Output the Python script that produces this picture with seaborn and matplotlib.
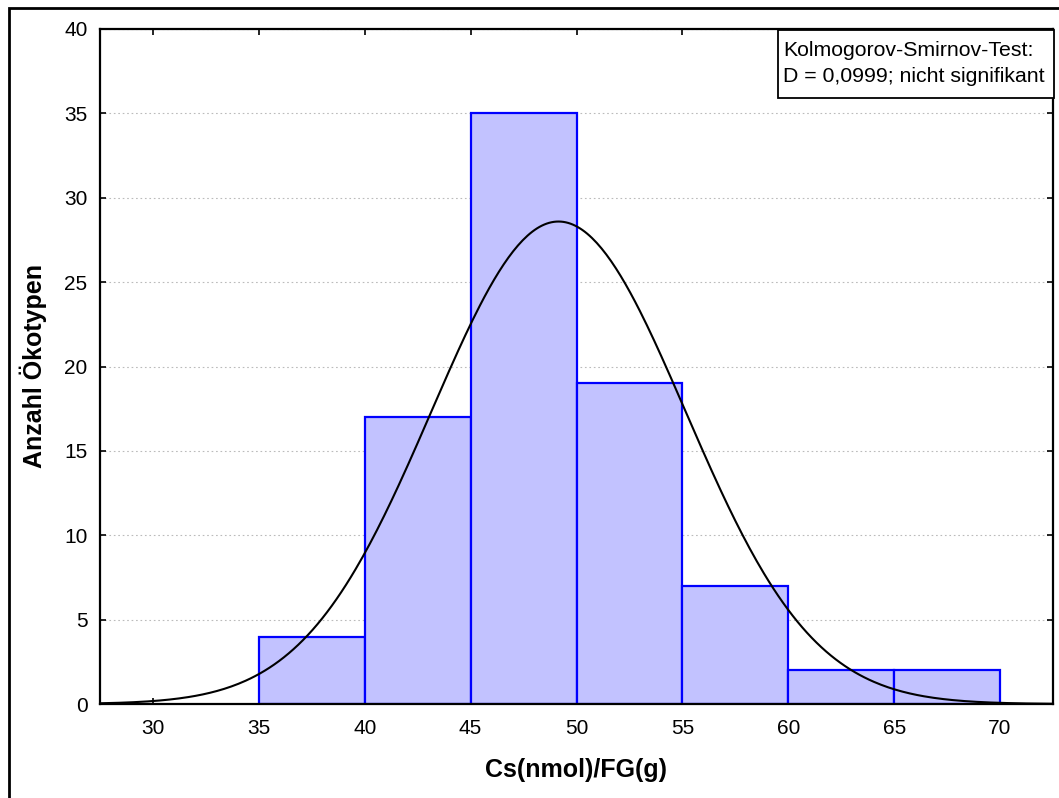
import numpy as np
import pandas as pd
import matplotlib
matplotlib.use("Agg")
import matplotlib.pyplot as plt
import seaborn as sns

bin_edges = [35, 40, 45, 50, 55, 60, 65, 70]
counts = [4, 17, 35, 19, 7, 2, 2]
fit_mean = 49.15
fit_sd = 6.0
x_ticks = [30, 35, 40, 45, 50, 55, 60, 65, 70]
y_ticks = [0, 5, 10, 15, 20, 25, 30, 35, 40]
xlabel = "Cs(nmol)/FG(g)"
ylabel = "Anzahl Ökotypen"
ks_text = "Kolmogorov-Smirnov-Test:\nD = 0,0999; nicht signifikant"

sns.set_theme(style="white")
plt.rcParams['font.family'] = ['Liberation Sans', 'DejaVu Sans']
plt.rcParams['text.color'] = 'black'
plt.rcParams['axes.labelcolor'] = 'black'
plt.rcParams['xtick.color'] = 'black'
plt.rcParams['ytick.color'] = 'black'

centers = [(a + b) / 2 for a, b in zip(bin_edges[:-1], bin_edges[1:])]
df = pd.DataFrame({"x": centers, "n": counts})

fig = plt.figure(figsize=(10.59, 7.98), dpi=100)
ax = fig.add_axes([100 / 1059, 1 - 704 / 798, 953 / 1059, 675 / 798])

# outer frame
fig.patches.append(plt.Rectangle((9 / 1059, -0.1), 1.2, 1 - 8 / 798 + 0.1,
                                 transform=fig.transFigure, fill=False,
                                 edgecolor='black', linewidth=2, zorder=0))

ax.yaxis.grid(True, linestyle=(0, (1.5, 2.5)), color='#bbbbbb', linewidth=0.8)
ax.set_axisbelow(True)

sns.histplot(data=df, x="x", weights="n", bins=bin_edges, ax=ax,
             color='#c2c2ff', edgecolor='#0000ff', linewidth=1.6, alpha=1.0)

binw = bin_edges[1] - bin_edges[0]
xs = np.linspace(27.5, 72.5, 400)
total = sum(counts)
ys = total * binw / (fit_sd * np.sqrt(2 * np.pi)) * np.exp(-0.5 * ((xs - fit_mean) / fit_sd) ** 2)
sns.lineplot(x=xs, y=ys, ax=ax, color='black', linewidth=1.5)

ax.set_xlim(27.5, 72.5)
ax.set_ylim(0, 40)
ax.set_xticks(x_ticks)
ax.set_yticks(y_ticks)
ax.tick_params(axis='both', which='both', direction='in', length=4, width=1.2,
               top=True, right=True, bottom=True, left=True,
               labelsize=15, colors='black', pad=9)
ax.tick_params(axis='x', pad=11)
for s in ax.spines.values():
    s.set_linewidth(1.6)
    s.set_color('black')

ax.set_xlabel(xlabel, fontsize=18, fontweight='bold', labelpad=14)
ax.set_ylabel(ylabel, fontsize=18, fontweight='bold', labelpad=12)

# KS annotation box
ax.add_patch(plt.Rectangle((0.7114, 0.8978), 0.2896, 0.1007, transform=ax.transAxes,
                           facecolor='white', edgecolor='black', linewidth=1.3,
                           zorder=5, clip_on=False))
ax.text(0.7167, 0.9825, ks_text, transform=ax.transAxes, ha='left', va='top',
        fontsize=15.3, linespacing=1.5, zorder=6)

fig.savefig("out.png", dpi=100)
